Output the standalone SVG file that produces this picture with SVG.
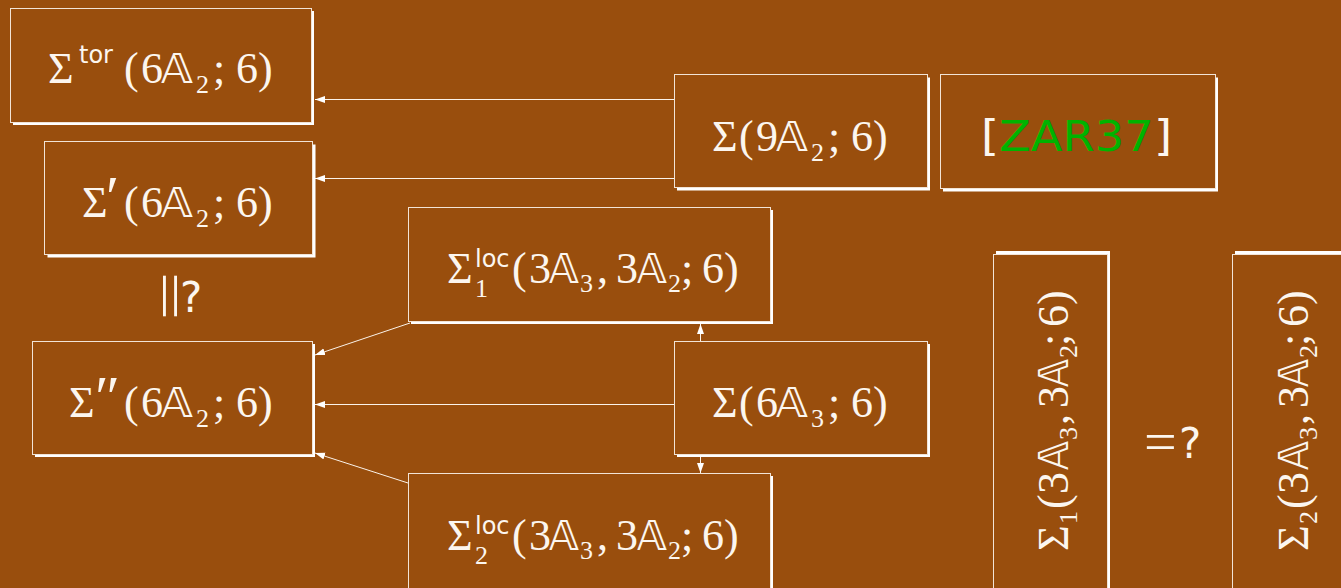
<svg xmlns="http://www.w3.org/2000/svg" width="1341" height="588" viewBox="0 0 1341 588">
  <style>
    .bg { fill: #994e0d; }
    .sh { fill: #ffffff; }
    .bx { fill: #994e0d; stroke: #f2e4d6; stroke-width: 1; }
    .m { font-family: "Liberation Serif", "DejaVu Serif", serif; font-size: 44px; fill: #fcf6ef; }
    .rel { font-size: 58px; }
    .bb { font-family: "DejaVu Sans", sans-serif; font-size: 41px; }
    .sub { font-size: 26px; }
    .pr { font-size: 60px; }
    .sup { font-family: "DejaVu Sans", "Liberation Sans", sans-serif; font-size: 24px; }
    .sf { font-family: "DejaVu Sans", "Liberation Sans", sans-serif; font-size: 42px; fill: #fcf6ef; }
    .ref { fill: #00b300; }
    .edge { stroke: #fbf3ea; stroke-width: 1; fill: none; marker-end: url(#head); }
  </style>
  <defs>
    <marker id="head" markerUnits="userSpaceOnUse" markerWidth="11" markerHeight="8" refX="10" refY="3.5" orient="auto">
      <path d="M0,0 L10,3.5 L0,7 z" fill="#ffffff"/>
    </marker>
  </defs>

  <rect class="bg" x="0" y="0" width="1341" height="588"/>

  <!-- connectors -->
  <g id="edges">
    <line class="edge" x1="674" y1="99.5" x2="315" y2="99.5"/>
    <line class="edge" x1="674" y1="178.5" x2="315" y2="178.5"/>
    <line class="edge" x1="674" y1="404.5" x2="315" y2="404.5"/>
    <line class="edge" x1="410" y1="323" x2="315" y2="355"/>
    <line class="edge" x1="408" y1="483" x2="315" y2="453"/>
    <line class="edge" x1="700.5" y1="341" x2="700.5" y2="324"/>
    <line class="edge" x1="700.5" y1="457" x2="700.5" y2="473"/>
  </g>

  <g id="n-tor">
    <rect class="sh" x="13" y="11" width="301" height="114"/>
    <rect class="bx" x="10.5" y="8.5" width="301" height="114"/>
    <text class="m" x="48" y="83">Σ<tspan class="sup" x="79" dy="-20">tor</tspan><tspan x="124" dy="20">(</tspan><tspan x="141">6</tspan><tspan class="bb" x="161" textLength="32" lengthAdjust="spacingAndGlyphs">𝔸</tspan><tspan class="sub" x="196" dy="10">2</tspan><tspan x="213" dy="-10">;</tspan><tspan x="236">6)</tspan></text>
  </g>

  <g id="n-prime">
    <rect class="sh" x="47.5" y="144.5" width="268" height="113"/>
    <rect class="bx" x="44.5" y="141.5" width="268" height="113"/>
    <text class="m" x="82" y="217">Σ<tspan class="pr" x="106">′</tspan><tspan x="124">(</tspan><tspan x="141">6</tspan><tspan class="bb" x="161" textLength="32" lengthAdjust="spacingAndGlyphs">𝔸</tspan><tspan class="sub" x="196" dy="10">2</tspan><tspan x="213" dy="-10">;</tspan><tspan x="236">6)</tspan></text>
  </g>

  <g id="n-9a2">
    <rect class="sh" x="677" y="77.5" width="253" height="113"/>
    <rect class="bx" x="674.5" y="74.5" width="253" height="113"/>
    <text class="m" x="712" y="151">Σ<tspan x="739">(</tspan><tspan x="756">9</tspan><tspan class="bb" x="776" textLength="32" lengthAdjust="spacingAndGlyphs">𝔸</tspan><tspan class="sub" x="811" dy="10">2</tspan><tspan x="828" dy="-10">;</tspan><tspan x="851">6)</tspan></text>
  </g>

  <g id="n-zar">
    <rect class="sh" x="943" y="77.5" width="275" height="114"/>
    <rect class="bx" x="940.5" y="74.5" width="275" height="114"/>
    <text class="sf" x="981" y="151" textLength="191" lengthAdjust="spacingAndGlyphs">[<tspan class="ref">ZAR37</tspan>]</text>
  </g>

  <g id="n-loc1">
    <rect class="sh" x="411" y="210" width="362" height="114"/>
    <rect class="bx" x="408.5" y="207.5" width="362" height="114"/>
    <text class="m" x="447" y="283">Σ<tspan class="sup" x="475" dy="-16">loc</tspan><tspan class="sub" x="475" dy="30">1</tspan><tspan x="512" dy="-14">(</tspan><tspan x="529">3</tspan><tspan class="bb" x="549" textLength="30" lengthAdjust="spacingAndGlyphs">𝔸</tspan><tspan class="sub" x="580" dy="9">3</tspan><tspan x="597" dy="-9">,</tspan><tspan x="616">3</tspan><tspan class="bb" x="637" textLength="30" lengthAdjust="spacingAndGlyphs">𝔸</tspan><tspan class="sub" x="668" dy="9">2</tspan><tspan x="681" dy="-9">;</tspan><tspan x="702">6)</tspan></text>
  </g>

  <g id="n-dprime">
    <rect class="sh" x="35" y="344" width="280" height="113"/>
    <rect class="bx" x="32.5" y="341.5" width="280" height="113"/>
    <text class="m" x="69" y="417">Σ<tspan class="pr" x="95">″</tspan><tspan x="124">(</tspan><tspan x="141">6</tspan><tspan class="bb" x="161" textLength="32" lengthAdjust="spacingAndGlyphs">𝔸</tspan><tspan class="sub" x="196" dy="10">2</tspan><tspan x="213" dy="-10">;</tspan><tspan x="236">6)</tspan></text>
  </g>

  <g id="n-6a3">
    <rect class="sh" x="677" y="344" width="253" height="113"/>
    <rect class="bx" x="674.5" y="341.5" width="253" height="113"/>
    <text class="m" x="712" y="417">Σ<tspan x="739">(</tspan><tspan x="756">6</tspan><tspan class="bb" x="776" textLength="32" lengthAdjust="spacingAndGlyphs">𝔸</tspan><tspan class="sub" x="811" dy="10">3</tspan><tspan x="828" dy="-10">;</tspan><tspan x="851">6)</tspan></text>
  </g>

  <g id="n-loc2">
    <rect class="sh" x="411" y="476" width="362" height="130"/>
    <rect class="bx" x="408.5" y="473.5" width="362" height="130"/>
    <text class="m" x="447" y="550">Σ<tspan class="sup" x="475" dy="-16">loc</tspan><tspan class="sub" x="475" dy="30">2</tspan><tspan x="512" dy="-14">(</tspan><tspan x="529">3</tspan><tspan class="bb" x="549" textLength="30" lengthAdjust="spacingAndGlyphs">𝔸</tspan><tspan class="sub" x="580" dy="9">3</tspan><tspan x="597" dy="-9">,</tspan><tspan x="616">3</tspan><tspan class="bb" x="637" textLength="30" lengthAdjust="spacingAndGlyphs">𝔸</tspan><tspan class="sub" x="668" dy="9">2</tspan><tspan x="681" dy="-9">;</tspan><tspan x="702">6)</tspan></text>
  </g>

  <g id="n-s1">
    <rect class="sh" x="996" y="251" width="114" height="360"/>
    <rect class="bx" x="993.5" y="254.5" width="114" height="360"/>
    <text class="m" transform="translate(1068,550) rotate(-90)" x="-1" y="0">Σ<tspan class="sub" x="26" dy="9">1</tspan><tspan x="41" dy="-9">(</tspan><tspan x="56">3</tspan><tspan class="bb" x="80" textLength="29" lengthAdjust="spacingAndGlyphs">𝔸</tspan><tspan class="sub" x="110" dy="9">3</tspan><tspan x="125" dy="-9">,</tspan><tspan x="142">3</tspan><tspan class="bb" x="163" textLength="28" lengthAdjust="spacingAndGlyphs">𝔸</tspan><tspan class="sub" x="192" dy="9">2</tspan><tspan x="204" dy="-9">;</tspan><tspan x="223">6)</tspan></text>
  </g>

  <g id="n-s2">
    <rect class="sh" x="1235" y="251" width="114" height="360"/>
    <rect class="bx" x="1232.5" y="254.5" width="114" height="360"/>
    <text class="m" transform="translate(1308,550) rotate(-90)" x="-1" y="0">Σ<tspan class="sub" x="26" dy="9">2</tspan><tspan x="41" dy="-9">(</tspan><tspan x="56">3</tspan><tspan class="bb" x="80" textLength="29" lengthAdjust="spacingAndGlyphs">𝔸</tspan><tspan class="sub" x="110" dy="9">3</tspan><tspan x="125" dy="-9">,</tspan><tspan x="142">3</tspan><tspan class="bb" x="163" textLength="28" lengthAdjust="spacingAndGlyphs">𝔸</tspan><tspan class="sub" x="192" dy="9">2</tspan><tspan x="204" dy="-9">;</tspan><tspan x="223">6)</tspan></text>
  </g>

  <!-- relation marks -->
  <g id="rel-eq">
    <text class="m rel" x="1144" y="461">=</text>
    <text class="sf" x="1179" y="458">?</text>
  </g>
  <g id="rel-par">
    <text class="m rel" transform="translate(166,296) rotate(90) scale(1.5,1)" x="0" y="14.5" text-anchor="middle">=</text>
    <text class="sf" x="180" y="312">?</text>
  </g>
</svg>
